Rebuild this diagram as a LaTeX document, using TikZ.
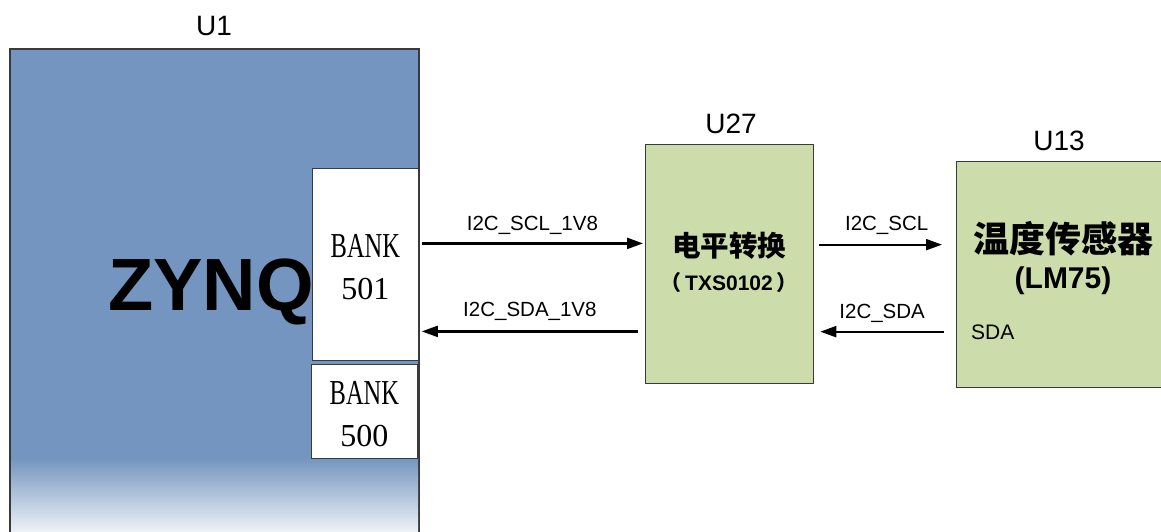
\documentclass[tikz,border=0pt]{standalone}
\usepackage{fontspec}
\setmainfont{Liberation Sans}
\newfontfamily\serifface{Liberation Serif}
\newfontfamily\cjkface{Noto Sans CJK SC}
\usetikzlibrary{arrows.meta}
\definecolor{zblue}{HTML}{7395BF}
\definecolor{zfade}{HTML}{EEF2F8}
\definecolor{lgreen}{HTML}{CDDCAB}
\definecolor{edge}{HTML}{3A3A3A}
\newcommand{\bankword}{{\fontsize{35}{42}\selectfont\rule{0pt}{29pt}\scalebox{0.7}[1]{BANK}}}
\begin{document}
\begin{tikzpicture}[x=1pt,y=-1pt,
  box/.style={draw=edge, line width=1.3pt, rectangle, inner sep=0pt, anchor=north west},
  bankbox/.style={draw=edge, line width=0.8pt, fill=white, rectangle, inner sep=0pt, anchor=north west,
    align=center, font=\serifface\fontsize{32}{42}\selectfont},
  arr/.style={line width=2.2pt, -{Triangle[length=16pt,width=11pt]}},
  sig/.style={font=\fontsize{20.5}{24}\selectfont, anchor=base, inner sep=0pt},
  ulabel/.style={font=\fontsize{28}{32}\selectfont, anchor=base, inner sep=0pt}]
\useasboundingbox (0,0) rectangle (1161,532);
\clip (0,0) rectangle (1161,532);
% U1
\node[box, fill=zblue, minimum width=408pt, minimum height=520pt] (u1) at (10,49) {};
\shade[top color=zblue, bottom color=zfade] (10,458) rectangle (418,532);
\draw[edge, line width=1.3pt] (u1.south west) -- (u1.north west) -- (u1.north east) -- (u1.south east);
\node[ulabel] (l1) at (214,36) {U1};
\node[anchor=base west, inner sep=0pt, font=\bfseries\fontsize{74}{80}\selectfont] (zynq) at (108,310) {ZYNQ};
\node[bankbox, minimum width=106pt, minimum height=192pt] (b501) at (312,168) {\bankword\\501};
\node[bankbox, minimum width=106pt, minimum height=94pt] (b500) at (311,364) {\bankword\\500};
% U27
\node[box, fill=lgreen, minimum width=168pt, minimum height=239pt] (u27) at (645,144) {};
\node[ulabel] (l27) at (731,133) {U27};
\node[anchor=base, inner sep=0pt, font=\cjkface\bfseries\fontsize{28.5}{30}\selectfont] (t27a) at (729,256) {电平转换};
\node[anchor=base, inner sep=0pt, font=\bfseries\fontsize{21}{24}\selectfont] (t27b) at (729,290) {{\cjkface（}\,TXS0102\,{\cjkface）}};
% U13
\node[box, fill=lgreen, minimum width=214pt, minimum height=226pt] (u13) at (956,161) {};
\node[ulabel] (l13) at (1059,150) {U13};
\node[anchor=base, inner sep=0pt, font=\cjkface\bfseries\fontsize{36}{40}\selectfont] (t13a) at (1063,252) {温度传感器};
\node[anchor=base, inner sep=0pt, font=\bfseries\fontsize{30}{34}\selectfont] (t13b) at (1063,288) {(LM75)};
\node[anchor=base west, inner sep=0pt, font=\fontsize{21}{24}\selectfont] (sda) at (971,339) {SDA};
% connectors
\path ([xshift=3pt,yshift=21pt]b501.east) coordinate (sclL);
\path ([xshift=-2pt]sclL -| u27.west) coordinate (sclR);
\draw[arr] (sclL) -- (sclR) node[sig, midway, yshift=13pt] {I2C\_SCL\_1V8};
\path ([xshift=3pt,yshift=-67pt]b501.east) coordinate (sdaL);
\path ([xshift=-7pt]sdaL -| u27.west) coordinate (sdaR);
\draw[arr] (sdaR) -- (sdaL) node[sig, midway, yshift=15pt] {I2C\_SDA\_1V8};
\path ([xshift=5pt,yshift=19.5pt]u27.east) coordinate (scl2L);
\path ([xshift=-14pt]scl2L -| u13.west) coordinate (scl2R);
\draw[arr] (scl2L) -- (scl2R) node[sig, midway, xshift=6pt, yshift=14pt] {I2C\_SCL};
\path ([xshift=6pt,yshift=-67.5pt]u27.east) coordinate (sda2L);
\path ([xshift=-12pt]sda2L -| u13.west) coordinate (sda2R);
\draw[arr] (sda2R) -- (sda2L) node[sig, midway, yshift=13pt] {I2C\_SDA};
\end{tikzpicture}
\end{document}
